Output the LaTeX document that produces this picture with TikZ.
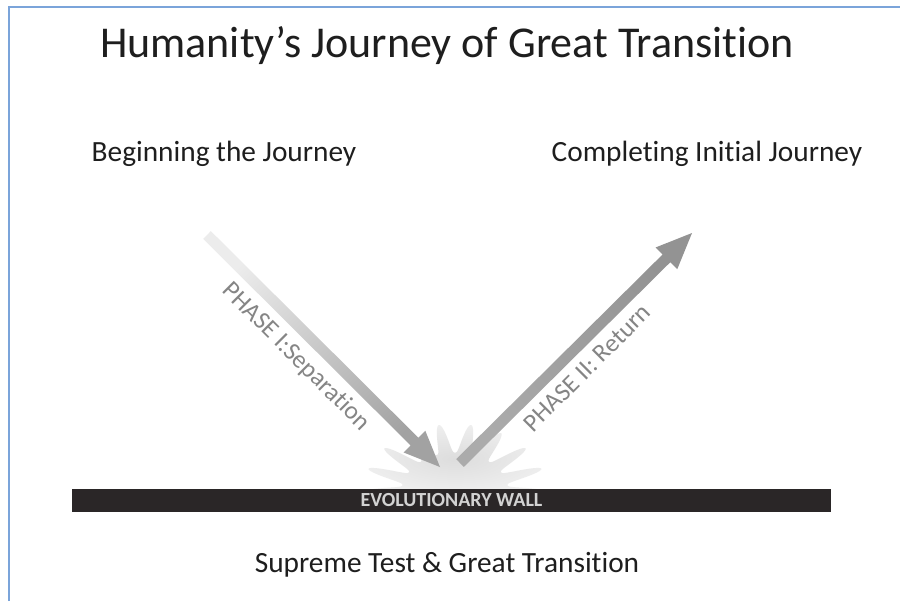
\documentclass[tikz,border=0pt]{standalone}
\usepackage{fontspec}
\setmainfont{Carlito}[Ligatures=NoCommon]
\usetikzlibrary{calc}
\definecolor{frameblue}{HTML}{7BA4DA}
\definecolor{wallcol}{HTML}{2A2627}
\definecolor{walltext}{HTML}{D2D2D2}
\definecolor{phasetext}{HTML}{858585}
\definecolor{inktext}{HTML}{1E1E1E}
\definecolor{burstin}{HTML}{DDDDDD}
\definecolor{burstout}{HTML}{EEEEEE}
\definecolor{arrowAlight}{HTML}{ECECEC}
\definecolor{arrowAdark}{HTML}{A2A2A2}
\definecolor{arrowBlight}{HTML}{ABABAB}
\definecolor{arrowBdark}{HTML}{939393}
\begin{document}
\begin{tikzpicture}[x=0.75pt,y=-0.75pt,
  titletext/.style={font=\fontsize{33}{40}\selectfont, text=inktext, inner sep=0pt, anchor=base},
  heading/.style={font=\fontsize{22}{26}\selectfont, text=inktext, inner sep=0pt, anchor=base},
  phaselabel/.style={font=\fontsize{19}{23}\selectfont, text=phasetext, inner sep=0pt},
  wallbar/.style={fill=wallcol, draw=none, minimum width=569.25pt, minimum height=17.25pt, inner sep=0pt,
    font=\bfseries\fontsize{15}{18}\selectfont, text=walltext},
  frameline/.style={draw=frameblue, line width=1.9pt}]
\useasboundingbox (0,0) rectangle (900,601);
\fill[white] (0,0) rectangle (900,601);
% frame
\coordinate (fbl) at (9,601);
\coordinate (ftl) at (9,7);
\coordinate (ftr) at (900,7);
\draw[frameline] (fbl) -- (ftl) -- (ftr);
% burst
\begin{scope}
\clip (300,400) rectangle (600,490);
\shade[inner color=burstin, outer color=burstout, shading=radial]
  plot[domain=0:180, samples=361, smooth] ({455+92*(0.58+0.42*abs(cos(9*\x))^3)*cos(\x)}, {492-68*(0.58+0.42*abs(cos(9*\x))^3)*sin(\x)}) -- cycle;
\end{scope}
% wall
\node[wallbar] (wall) at (451.5,500.5) {EVOLUTIONARY WALL};
% arrow 1
\coordinate (s1) at (207,235);
\coordinate (t1) at (440,467);
\coordinate (h1) at ($(t1)!27pt!(s1)$);
\shade[top color=arrowAlight, bottom color=arrowAdark, shading angle=45]
  ($(s1)!4.1pt!90:(t1)$) -- ($(h1)!4.1pt!90:(t1)$) -- ($(h1)!11.5pt!90:(t1)$) -- (t1)
  -- ($(h1)!11.5pt!-90:(t1)$) -- ($(h1)!4.1pt!-90:(t1)$) -- ($(s1)!4.1pt!-90:(t1)$) -- cycle;
% arrow 2
\coordinate (s2) at (460,463);
\coordinate (t2) at (692,233);
\coordinate (h2) at ($(t2)!27pt!(s2)$);
\shade[top color=arrowBdark, bottom color=arrowBlight, shading angle=-45]
  ($(s2)!4.1pt!90:(t2)$) -- ($(h2)!4.1pt!90:(t2)$) -- ($(h2)!11.5pt!90:(t2)$) -- (t2)
  -- ($(h2)!11.5pt!-90:(t2)$) -- ($(h2)!4.1pt!-90:(t2)$) -- ($(s2)!4.1pt!-90:(t2)$) -- cycle;
% labels
\node[phaselabel, rotate=-45] (p1) at (296,357) {PHASE I:Separation};
\node[phaselabel, rotate=45] (p2) at (587,368) {PHASE II: Return};
\node[titletext] (title) at (447,57) {Humanity’s Journey of Great Transition};
\node[heading] (begin) at (224,161) {Beginning the Journey};
\node[heading] (complete) at (707,161) {Completing Initial Journey};
\node[heading] (supreme) at (447,572) {Supreme Test \& Great Transition};
\end{tikzpicture}
\end{document}
